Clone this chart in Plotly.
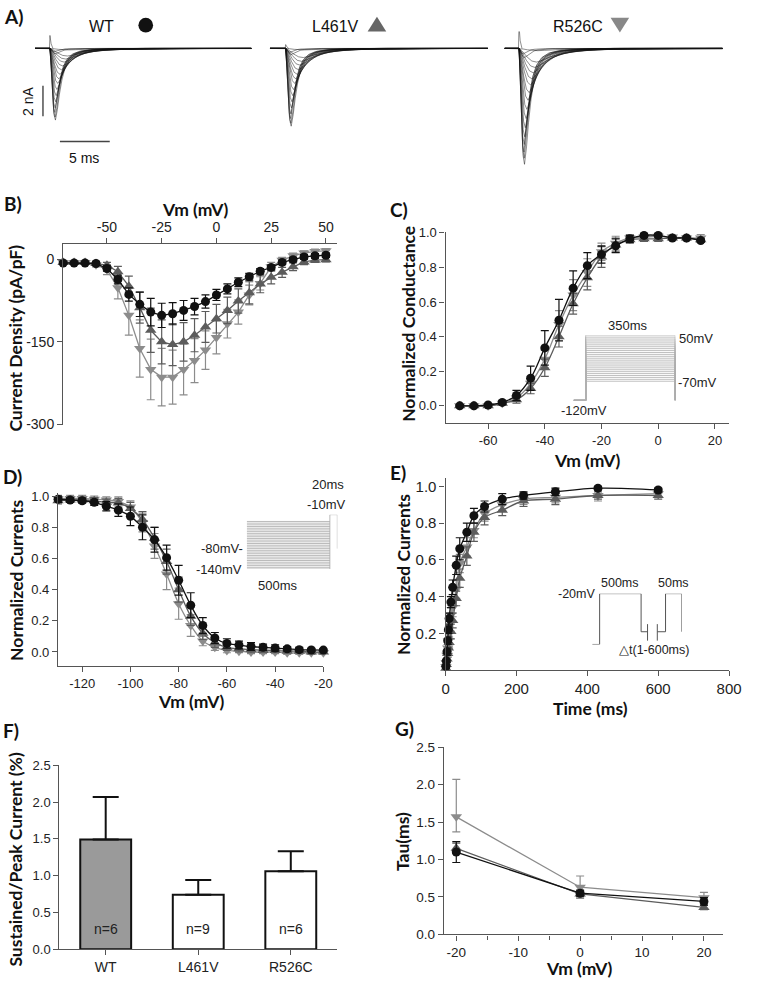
import plotly.graph_objects as go

W, H = 758, 986

# ---------------- data ----------------
# A) current traces: template waveform, peak amplitudes per sweep
tmpl_t = [0, 0.12, 0.25, 0.4, 0.55, 0.75, 0.95, 1.2, 1.5, 1.9, 2.5, 3.3, 4.5, 6.5, 10.0]
tmpl_i = [0, -0.25, -0.62, -0.92, -1.0, -0.85, -0.64, -0.44, -0.28, -0.17, -0.09, -0.045, -0.02, -0.008, 0]
sweep_stretch = [1.0, 0.95, 0.9, 0.95, 1.05, 1.15, 1.3, 1.45, 1.65, 1.85, 2.1, 2.35, 2.6, 2.9, 3.2, 1.0, 0.8, 3.4]
wt_amp = [4.7, 4.5, 4.2, 3.9, 3.5, 3.1, 2.7, 2.3, 2.0, 1.7, 1.4, 1.15, 0.9, 0.7, 0.5, 0.35, 0.2, 0.1]
l461v_amp = [5.1, 4.9, 4.6, 4.3, 3.9, 3.5, 3.1, 2.7, 2.3, 2.0, 1.7, 1.4, 1.1, 0.85, 0.6, 0.4, 0.25, 0.1]
r526c_amp = [7.6, 7.2, 6.8, 6.3, 5.8, 5.2, 4.6, 4.0, 3.4, 2.9, 2.4, 2.0, 1.6, 1.25, 0.9, 0.6, 0.35, 0.15]
onsets = [1.5, 1.57, 1.44]
blip_dt = [-0.05, 0.0, 0.12, 0.3]
wt_blip = [0, 0.85, 0.3, 0]
l461v_blip = [0, 0.25, 0.1, 0]
r526c_blip = [0, 1.5, 0.5, 0]
trace_len = 21.7

# B) I-V
vm_b = [-70, -65, -60, -55, -50, -45, -40, -35, -30, -25, -20, -15, -10, -5, 0, 5, 10, 15, 20, 25, 30, 35, 40, 45, 50]
wt_b = [-7, -7, -7, -8, -17, -37, -64, -82, -96, -102, -99, -93, -86, -77, -65, -54, -42, -32, -22, -15, -6, -1, 4, 6, 7]
wt_b_err = [2, 2, 2, 3, 5, 8, 12, 22, 25, 22, 20, 18, 15, 12, 10, 9, 8, 6, 5, 4, 4, 4, 4, 4, 4]
l461v_b = [-6, -6, -6, -8, -11, -23, -49, -88, -129, -150, -155, -150, -138, -123, -108, -93, -76, -61, -45, -33, -24, -14, -5, -2, -1]
l461v_b_err = [2, 2, 2, 3, 5, 10, 18, 28, 40, 40, 38, 35, 30, 28, 26, 24, 22, 20, 16, 12, 9, 7, 5, 4, 4]
r526c_b = [-6, -6, -6, -10, -19, -52, -102, -162, -200, -214, -214, -200, -184, -165, -142, -117, -96, -65, -44, -14, -2, 6, 11, 14, 15]
r526c_b_err = [2, 2, 2, 4, 9, 20, 36, 52, 55, 52, 49, 46, 40, 35, 30, 26, 22, 18, 12, 8, 5, 5, 4, 4, 4]
b_xticks = [-50, -25, 0, 25, 50]
b_yticks = [0, -150, -300]

# C) conductance
vm_c = [-70, -65, -60, -55, -50, -45, -40, -35, -30, -25, -20, -15, -10, -5, 0, 5, 10, 15]
wt_c = [0.0, 0.0, 0.005, 0.02, 0.06, 0.16, 0.335, 0.495, 0.68, 0.81, 0.875, 0.925, 0.965, 0.985, 0.985, 0.97, 0.97, 0.955]
wt_c_err = [0.005, 0.005, 0.005, 0.01, 0.03, 0.07, 0.10, 0.12, 0.10, 0.075, 0.05, 0.04, 0.02, 0.01, 0.01, 0.01, 0.01, 0.01]
l461v_c = [0.0, 0.0, 0.0, 0.015, 0.035, 0.10, 0.22, 0.40, 0.59, 0.74, 0.86, 0.93, 0.96, 0.965, 0.965, 0.97, 0.97, 0.96]
l461v_c_err = [0.005, 0.005, 0.005, 0.01, 0.02, 0.03, 0.05, 0.06, 0.06, 0.07, 0.06, 0.04, 0.02, 0.015, 0.015, 0.01, 0.01, 0.01]
r526c_c = [0.0, 0.0, 0.0, 0.015, 0.045, 0.13, 0.27, 0.47, 0.64, 0.77, 0.89, 0.94, 0.97, 0.975, 0.98, 0.975, 0.97, 0.97]
r526c_c_err = [0.005, 0.005, 0.005, 0.01, 0.02, 0.04, 0.05, 0.08, 0.09, 0.08, 0.05, 0.04, 0.02, 0.015, 0.015, 0.01, 0.01, 0.02]
c_xticks = [-60, -40, -20, 0, 20]
c_steps = list(range(-70, 55, 5))
c_hold, c_pre, c_dur = -120, -47, 350

# D) steady-state inactivation
vm_d = [-130, -125, -120, -115, -110, -105, -100, -95, -90, -85, -80, -75, -70, -65, -60, -55, -50, -45, -40, -35, -30, -25, -20]
wt_d = [0.98, 0.975, 0.97, 0.96, 0.935, 0.91, 0.87, 0.80, 0.72, 0.605, 0.46, 0.30, 0.17, 0.09, 0.055, 0.045, 0.035, 0.03, 0.025, 0.02, 0.015, 0.013, 0.012]
wt_d_err = [0.02, 0.015, 0.015, 0.02, 0.03, 0.04, 0.06, 0.08, 0.08, 0.08, 0.095, 0.08, 0.05, 0.035, 0.03, 0.025, 0.025, 0.02, 0.02, 0.015, 0.015, 0.01, 0.01]
l461v_d = [0.97, 0.975, 0.975, 0.97, 0.96, 0.955, 0.92, 0.85, 0.73, 0.58, 0.40, 0.23, 0.12, 0.06, 0.03, 0.02, 0.015, 0.01, 0.01, 0.005, 0.005, 0.0, 0.0]
l461v_d_err = [0.02, 0.015, 0.015, 0.02, 0.02, 0.03, 0.04, 0.05, 0.07, 0.08, 0.08, 0.06, 0.04, 0.03, 0.02, 0.02, 0.02, 0.015, 0.015, 0.01, 0.01, 0.01, 0.01]
r526c_d = [0.985, 0.985, 0.985, 0.98, 0.975, 0.965, 0.93, 0.83, 0.68, 0.50, 0.31, 0.17, 0.07, 0.03, 0.01, 0.005, 0.0, 0.0, 0.0, -0.005, -0.005, -0.005, -0.005]
r526c_d_err = [0.02, 0.02, 0.02, 0.02, 0.02, 0.03, 0.04, 0.06, 0.08, 0.10, 0.1, 0.07, 0.03, 0.02, 0.015, 0.01, 0.01, 0.01, 0.01, 0.01, 0.01, 0.01, 0.01]
d_xticks = [-120, -100, -80, -60, -40, -20]
d_steps = list(range(-140, 5, 5))
d_dur, d_test_end, d_test_level, d_hold = 500, 545, 20, -80

# E) recovery from inactivation
t_e = [1, 2, 4, 6, 8, 10, 15, 20, 30, 40, 60, 80, 110, 160, 220, 310, 430, 600]
wt_e = [0.02, 0.05, 0.10, 0.16, 0.22, 0.28, 0.37, 0.45, 0.57, 0.66, 0.75, 0.84, 0.89, 0.93, 0.95, 0.97, 0.99, 0.98]
wt_e_err = [0.01, 0.01, 0.02, 0.02, 0.02, 0.03, 0.03, 0.04, 0.05, 0.06, 0.05, 0.04, 0.03, 0.03, 0.02, 0.02, 0.01, 0.01]
l461v_e = [0.01, 0.03, 0.06, 0.09, 0.12, 0.15, 0.21, 0.27, 0.39, 0.50, 0.62, 0.75, 0.83, 0.87, 0.92, 0.93, 0.95, 0.95]
l461v_e_err = [0.01, 0.01, 0.02, 0.02, 0.03, 0.03, 0.04, 0.04, 0.04, 0.05, 0.05, 0.05, 0.04, 0.03, 0.03, 0.03, 0.02, 0.02]
r526c_e = [0.02, 0.04, 0.08, 0.12, 0.16, 0.20, 0.30, 0.34, 0.44, 0.58, 0.67, 0.76, 0.85, 0.90, 0.93, 0.94, 0.95, 0.96]
r526c_e_err = [0.01, 0.01, 0.02, 0.02, 0.03, 0.03, 0.04, 0.05, 0.05, 0.05, 0.05, 0.04, 0.04, 0.03, 0.03, 0.03, 0.03, 0.02]
e_prot_x = [0, 8.3, 8.3, 54.6, 54.6, 61.8, None, 72.7, 81.9, 81.9, 100, 100]
e_prot_y = [-100, -100, -20, -20, -80, -80, None, -80, -80, -20, -20, -80]
e_break_x = [61.8, 61.8, None, 72.7, 72.7]
e_break_y = [-94, -68, None, -94, -68]

# F) sustained / peak
groups = ["WT", "L461V", "R526C"]
sust = [1.49, 0.74, 1.06]
sust_err = [0.58, 0.20, 0.27]
n_cells = ["n=6", "n=9", "n=6"]

# G) tau
vm_g = [-20, 0, 20]
wt_g = [1.10, 0.55, 0.44]
wt_g_err = [0.14, 0.04, 0.05]
l461v_g = [1.15, 0.54, 0.36]
l461v_g_err = [0.07, 0.04, 0.03]
r526c_g = [1.57, 0.63, 0.49]
r526c_g_up = [0.50, 0.15, 0.07]
r526c_g_dn = [0.20, 0.15, 0.07]
g_xticks = [-20, -10, 0, 10, 20]

# ---------------- style ----------------
C_WT, C_L, C_R = "#111111", "#5c5c5c", "#8c8c8c"
AXC = "#555555"
TICKF = "Liberation Sans, Arial, sans-serif"
BOLDF = "Lato, Open Sans, sans-serif"


def dx(a, b):
    return [a / W, b / W]


def dy(top, bottom):
    return [1 - bottom / H, 1 - top / H]


def hyph(vals):
    # plain hyphen minus signs, as in the original figure
    return [str(v) for v in vals]


def axis(domain, rng, anchor, size=13, **kw):
    d = dict(domain=domain, range=rng, anchor=anchor, showline=True, linecolor=AXC, linewidth=1.3,
             ticks="outside", ticklen=5, tickwidth=1.3, tickcolor=AXC, showgrid=False, zeroline=False,
             tickfont=dict(family=TICKF, size=size, color="#222"))
    d.update(kw)
    return d


def hidden(domain, rng, anchor):
    return dict(domain=domain, range=rng, anchor=anchor, visible=False, fixedrange=True)


fig = go.Figure()

# A) traces
families = [(wt_amp, wt_blip), (l461v_amp, l461v_blip), (r526c_amp, r526c_blip)]
for k, (amps, blip) in enumerate(families):
    on = onsets[k]
    xs, ys = [], []
    for a, s in zip(amps, sweep_stretch):
        xs += [0, on] + [on + t * s for t in tmpl_t] + [trace_len, None]
        ys += [0, 0] + [a * v for v in tmpl_i] + [0, None]
    xs += [on + d for d in blip_dt]
    ys += blip
    fig.add_trace(go.Scatter(x=xs, y=ys, mode="lines", line=dict(color="rgba(20,20,20,0.8)", width=0.6),
                             xaxis="x%d" % (k + 1), yaxis="y%d" % (k + 1), hoverinfo="skip"))

# scale bars (5 ms, 2 nA)
fig.add_trace(go.Scatter(x=[0.8, 0.8, None, 2.5, 2.5 + 5], y=[-2.45, -2.45 - 2, None, -6.1, -6.1],
                         mode="lines", line=dict(color="#444", width=1.4), xaxis="x1", yaxis="y1",
                         cliponaxis=False, hoverinfo="skip"))


def series(x, y, err, color, symbol, size, xa, ya, shape="linear", errminus=None):
    ey = dict(type="data", array=err, color=color, thickness=1.2, width=4)
    if errminus is not None:
        ey.update(symmetric=False, arrayminus=errminus)
    return go.Scatter(x=x, y=y, mode="lines+markers", line=dict(color=color, width=1.3, shape=shape),
                      marker=dict(color=color, symbol=symbol, size=size), error_y=ey,
                      xaxis=xa, yaxis=ya, cliponaxis=False)


# B
fig.add_trace(series(vm_b, r526c_b, r526c_b_err, C_R, "triangle-down", 10, "x4", "y4"))
fig.add_trace(series(vm_b, l461v_b, l461v_b_err, C_L, "triangle-up", 10, "x4", "y4"))
fig.add_trace(series(vm_b, wt_b, wt_b_err, C_WT, "circle", 9, "x4", "y4"))

# C
fig.add_trace(series(vm_c, r526c_c, r526c_c_err, C_R, "triangle-down", 10, "x5", "y5", "spline"))
fig.add_trace(series(vm_c, l461v_c, l461v_c_err, C_L, "triangle-up", 10, "x5", "y5", "spline"))
fig.add_trace(series(vm_c, wt_c, wt_c_err, C_WT, "circle", 9, "x5", "y5", "spline"))
cx, cy = [], []
for v in c_steps:
    cx += [c_pre, 0, 0, c_dur, c_dur, None]
    cy += [c_hold, c_hold, v, v, c_hold, None]
fig.add_trace(go.Scatter(x=cx, y=cy, mode="lines", line=dict(color="#b0b0b0", width=0.8),
                         xaxis="x6", yaxis="y6", cliponaxis=False, hoverinfo="skip"))

# D
fig.add_trace(series(vm_d, r526c_d, r526c_d_err, C_R, "triangle-down", 10, "x7", "y7", "spline"))
fig.add_trace(series(vm_d, l461v_d, l461v_d_err, C_L, "triangle-up", 10, "x7", "y7", "spline"))
fig.add_trace(series(vm_d, wt_d, wt_d_err, C_WT, "circle", 9, "x7", "y7", "spline"))
ddx, ddy = [], []
for v in d_steps:
    ddx += [0, d_dur, None]
    ddy += [v, v, None]
ddx += [d_dur, d_dur, d_test_end, d_test_end]
ddy += [d_steps[0], d_test_level, d_test_level, d_hold]
fig.add_trace(go.Scatter(x=ddx, y=ddy, mode="lines", line=dict(color="#a8a8a8", width=0.8),
                         xaxis="x8", yaxis="y8", cliponaxis=False, hoverinfo="skip"))

# E
fig.add_trace(series(t_e, r526c_e, r526c_e_err, C_R, "triangle-down", 10, "x9", "y9", "spline"))
fig.add_trace(series(t_e, l461v_e, l461v_e_err, C_L, "triangle-up", 10, "x9", "y9", "spline"))
fig.add_trace(series(t_e, wt_e, wt_e_err, C_WT, "circle", 9, "x9", "y9", "spline"))
fig.add_trace(go.Scatter(x=e_prot_x + [None] + e_break_x, y=e_prot_y + [None] + e_break_y, mode="lines",
                         line=dict(color="#555", width=1), xaxis="x10", yaxis="y10",
                         cliponaxis=False, hoverinfo="skip"))

# F
fig.add_trace(go.Bar(x=groups, y=sust, width=0.55,
                     marker=dict(color=["#9a9a9a", "white", "white"], line=dict(color="#111", width=2)),
                     error_y=dict(type="data", array=sust_err, arrayminus=[0, 0, 0], symmetric=False,
                                  color="#111", thickness=2, width=13),
                     xaxis="x11", yaxis="y11"))

# G
fig.add_trace(series(vm_g, r526c_g, r526c_g_up, C_R, "triangle-down", 10, "x12", "y12", errminus=r526c_g_dn))
fig.add_trace(series(vm_g, l461v_g, l461v_g_err, C_L, "triangle-up", 10, "x12", "y12"))
fig.add_trace(series(vm_g, wt_g, wt_g_err, C_WT, "circle", 9, "x12", "y12"))

# ---------------- layout ----------------
lay = dict(width=W, height=H, margin=dict(l=0, r=0, t=0, b=0), showlegend=False,
           paper_bgcolor="white", plot_bgcolor="white")

a_y = dy(25, 165)
a_rng = [-7.94, 1.1]
lay["xaxis"] = hidden(dx(31.7, 253), [0, trace_len], "y")
lay["yaxis"] = hidden(a_y, a_rng, "x")
lay["xaxis2"] = hidden(dx(272, 495), [0, trace_len], "y2")
lay["yaxis2"] = hidden(a_y, a_rng, "x2")
lay["xaxis3"] = hidden(dx(512, 735), [0, trace_len], "y3")
lay["yaxis3"] = hidden(a_y, a_rng, "x3")

lay["xaxis4"] = axis(dx(60.5, 340.5), [-70, 55], "y4", size=14, side="top",
                     tickvals=b_xticks, ticktext=hyph(b_xticks))
lay["yaxis4"] = axis(dy(240.9, 424), [-300, 27], "x4", size=14, tickvals=b_yticks, ticktext=hyph(b_yticks))

lay["xaxis5"] = axis(dx(451.7, 741.7), [-75, 25], "y5", tickvals=c_xticks, ticktext=hyph(c_xticks))
lay["yaxis5"] = axis(dy(228.4, 422.6), [-0.1, 1.005], "x5", tickvals=[0, 0.2, 0.4, 0.6, 0.8, 1.0], tickformat=".1f")
lay["xaxis6"] = hidden(dx(582.7, 686.7), [c_pre, c_dur], "y6")
lay["yaxis6"] = hidden(dy(333.3, 399.5), [c_hold, 50], "x6")

lay["xaxis7"] = axis(dx(55.3, 326.7), [-130, -20], "y7", tickvals=d_xticks, ticktext=hyph(d_xticks))
lay["yaxis7"] = axis(dy(493.5, 669.2), [-0.09, 1.02], "x7", tickvals=[0, 0.2, 0.4, 0.6, 0.8, 1.0], tickformat=".1f")
lay["xaxis8"] = hidden(dx(248.3, 341), [0, d_test_end], "y8")
lay["yaxis8"] = hidden(dy(515.5, 570.7), [-140, d_test_level], "x8")

lay["xaxis9"] = axis(dx(451.7, 741.7), [0, 800], "y9", size=15, tickvals=[0, 200, 400, 600, 800])
lay["yaxis9"] = axis(dy(478.3, 673.3), [0, 1.045], "x9", size=15, tickvals=[0.2, 0.4, 0.6, 0.8, 1.0], tickformat=".1f")
lay["xaxis10"] = hidden(dx(601.7, 693.3), [0, 100], "y10")
lay["yaxis10"] = hidden(dy(595.7, 647.3), [-100, -20], "x10")

lay["xaxis11"] = axis(dx(56.7, 340.7), [-0.5, 2.5], "y11", size=14, type="category")
lay["yaxis11"] = axis(dy(770, 956.7), [0, 2.5], "x11", tickvals=[0, 0.5, 1.0, 1.5, 2.0, 2.5], tickformat=".1f")

lay["xaxis12"] = axis(dx(450, 735), [-22, 23], "y12", size=13.5, tickvals=g_xticks, ticktext=hyph(g_xticks),
                      minor=dict(tickvals=[-15, -5, 5, 15], ticks="outside", ticklen=4, tickcolor=AXC, tickwidth=1.2))
lay["yaxis12"] = axis(dy(751.7, 941.7), [0, 2.5], "x12", size=13.5, tickvals=[0, 0.5, 1.0, 1.5, 2.0, 2.5], tickformat=".1f")

ann = []


def paper_text(text, x, y, size=17.5, bold=True, angle=0):
    ann.append(dict(text="<b>%s</b>" % text if bold else text, x=x / W, y=1 - y / H, xref="paper", yref="paper",
                    showarrow=False, textangle=angle, xanchor="center", yanchor="middle",
                    font=dict(family=BOLDF if bold else TICKF, size=size, color="#111")))


def ax_text(text, x, y, xa, ya, size=13, xanchor="center", xshift=0, yshift=0):
    ann.append(dict(text=text, x=x, y=y, xref=xa, yref=ya, showarrow=False, xanchor=xanchor, yanchor="middle",
                    xshift=xshift, yshift=yshift,
                    font=dict(family=TICKF, size=size, color="#222")))


# panel letters
for lbl, x, y in [("A)", 10, 10), ("B)", 9, 200), ("C)", 404, 206), ("D)", 9, 477),
                  ("E)", 403, 473), ("F)", 7, 735), ("G)", 410, 733)]:
    paper_text(lbl, x, y, size=19)

# axis titles
paper_text("Vm (mV)", 196, 206)
paper_text("Current Density (pA/pF)", 12, 336, angle=-90)
paper_text("Normalized Conductance", 413, 322, angle=-90)
paper_text("Vm (mV)", 597, 460)
paper_text("Normalized Currents", 12, 582, angle=-90)
paper_text("Vm (mV)", 192, 705)
paper_text("Normalized Currents", 408, 576, angle=-90)
paper_text("Time (ms)", 600, 712)
paper_text("Sustained/Peak Current (%)", 12, 865, angle=-90)
paper_text("Tau(ms)", 407, 847, angle=-90)
paper_text("Vm (mV)", 589, 976)

# A labels
paper_text("WT", 100, 20, size=16, bold=False)
paper_text("L461V", 339, 20, size=16, bold=False)
paper_text("R526C", 587, 20, size=16, bold=False)
paper_text("5 ms", 82, 153, size=14, bold=False)
paper_text("2 nA", 24, 96, size=14, bold=False, angle=-90)

# C inset labels
ax_text("350ms", 165, 50, "x6", "y6", yshift=10)
ax_text("50mV", c_dur, 50, "x6", "y6", xanchor="left", xshift=2, yshift=-3)
ax_text("-70mV", c_dur, -70, "x6", "y6", xanchor="left", xshift=1, yshift=-1)
ax_text("-120mV", -8, c_hold, "x6", "y6", yshift=-10)

# D inset labels
ax_text("20ms", 490, d_test_level, "x8", "y8", yshift=30)
ax_text("-10mV", 480, d_test_level, "x8", "y8", yshift=10)
ax_text("-80mV-", 0, d_hold, "x8", "y8", xanchor="right", xshift=-2)
ax_text("-140mV", 0, -140, "x8", "y8", xanchor="right", xshift=-3)
ax_text("500ms", 186, -140, "x8", "y8", yshift=-16)

# E inset labels
ax_text("-20mV", 8.3, -20, "x10", "y10", xanchor="right", xshift=-3, size=12.5)
ax_text("500ms", 31, -20, "x10", "y10", yshift=11, size=12.5)
ax_text("50ms", 91, -20, "x10", "y10", yshift=11, size=12.5)
ax_text("-100mV", -27, -100, "x10", "y10", yshift=-6, size=12.5)
ax_text("\u25b3t(1-600ms)", 69, -100, "x10", "y10", yshift=-6, size=12.5)
ax_text("-80mV", 101, -80, "x10", "y10", xanchor="left", size=12.5)

# F n labels
for g, n in zip(groups, n_cells):
    ax_text(n, g, 0.28, "x11", "y11", size=14)

lay["annotations"] = ann

# legend symbols next to the A labels
lay["shapes"] = [
    dict(type="circle", xref="paper", yref="paper", x0=137.5 / W, x1=152.5 / W, y0=1 - 26 / H, y1=1 - 11 / H,
         fillcolor="#111", line=dict(width=0)),
    dict(type="path", xref="paper", yref="paper",
         path="M %f,%f L %f,%f L %f,%f Z" % (372 / W, 1 - 25 / H, 391 / W, 1 - 25 / H, 381.5 / W, 1 - 10 / H),
         fillcolor="#666", line=dict(width=0)),
    dict(type="path", xref="paper", yref="paper",
         path="M %f,%f L %f,%f L %f,%f Z" % (620.5 / W, 1 - 11 / H, 639.5 / W, 1 - 11 / H, 630 / W, 1 - 26 / H),
         fillcolor="#888", line=dict(width=0)),
]

fig.update_layout(**lay)

pin = ("document.documentElement.style.overflow='hidden';"
       "document.body.style.margin='0';document.body.style.overflow='hidden';"
       "var g=document.getElementsByClassName('plotly-graph-div')[0];"
       "g.style.position='fixed';g.style.left='0px';g.style.top='0px';")
fig.write_html("out.html", config={"displayModeBar": False}, post_script=pin)
